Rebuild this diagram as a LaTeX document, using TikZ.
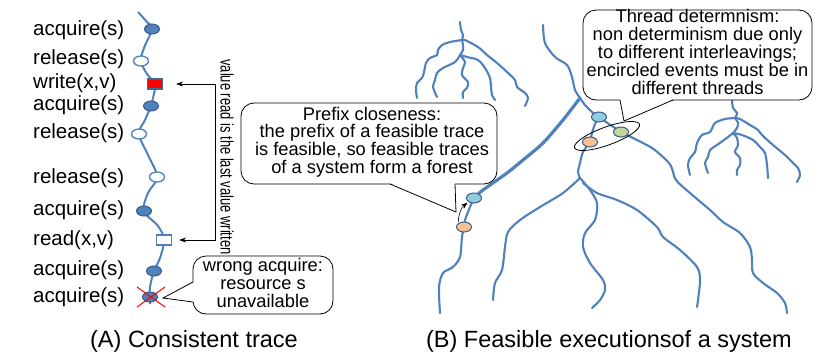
\documentclass[tikz,border=0pt]{standalone}
\usepackage{fontspec}
\usepackage{graphicx}
\setmainfont{Liberation Sans}
\usetikzlibrary{arrows.meta,backgrounds,shapes.geometric}

\definecolor{traceblue}{RGB}{79,129,189}
\definecolor{nodeborder}{RGB}{56,93,138}
\definecolor{evlightblue}{RGB}{146,205,220}
\definecolor{evorange}{RGB}{250,192,144}
\definecolor{evgreen}{RGB}{195,214,155}

\tikzset{
  evbase/.style={ellipse, inner sep=0pt, minimum width=15pt, minimum height=10pt},
  evfilled/.style={evbase, draw=nodeborder, fill=traceblue, line width=1pt},
  evopen/.style={evbase, draw=traceblue, fill=white, line width=1.3pt},
  evsquare/.style={rectangle, inner sep=0pt, minimum width=15pt, minimum height=10pt, line width=1.2pt},
  tnode/.style={evbase, draw=nodeborder, line width=1pt},
  trace/.style={draw=traceblue, line width=2pt},
  branch/.style={draw=traceblue, line width=2.1pt, line cap=round},
  evlabel/.style={anchor=base west, inner sep=0pt, font=\fontsize{20.5}{24}\selectfont},
  calltext/.style={align=center, inner sep=0pt, font=\fontsize{18.3}{17.8}\selectfont},
  callbox/.style={draw=black, fill=white, line width=0.8pt, rounded corners=13pt},
  tailline/.style={draw=black, line width=0.8pt},
  arr/.style={draw=black, line width=0.6pt, -{Stealth[length=7pt,width=5pt]}},
  caption/.style={anchor=base, inner sep=0pt, font=\fontsize{23.5}{28}\selectfont},
}

\begin{document}
\begin{tikzpicture}[x=1pt, y=-1pt]
\useasboundingbox (0,0) rectangle (840,354);
\begin{scope}[on background layer]
  \fill[white] (0,0) rectangle (840,354);
\end{scope}

% ---------------- (A) consistent trace ----------------
\node[evfilled] (a1) at (152,29) {};
\node[evopen]   (r1) at (141,61) {};
\node[evsquare, draw=traceblue!80!black, fill=red] (wr) at (155,84) {};
\node[evfilled] (a2) at (151,106) {};
\node[evopen]   (r2) at (139,134) {};
\node[evopen]   (r3) at (157,177) {};
\node[evfilled] (a3) at (144,211) {};
\node[evsquare, draw=traceblue, fill=white] (rd) at (164,240) {};
\node[evfilled] (a4) at (154,271) {};
\node[evfilled] (a5) at (150,297) {};

\begin{scope}[on background layer]
  \draw[trace] plot[smooth, tension=0.6] coordinates {
    (138,12) (147,22) (a1) (144,48) (r1) (147,74) (wr) (153,98) (a2)
    (145,120) (r2) (148,155) (r3) (148,193) (a3) (158,226) (rd)
    (160,258) (a4) (150,287) (a5) (150,304)};
\end{scope}

\node[evlabel] (l1)  at (33,35)  {acquire(s)};
\node[evlabel] (l2)  at (33,64)  {release(s)};
\node[evlabel] (l3)  at (33,88)  {write(x,v)};
\node[evlabel] (l4)  at (33,110) {acquire(s)};
\node[evlabel] (l5)  at (33,138) {release(s)};
\node[evlabel] (l6)  at (33,183) {release(s)};
\node[evlabel] (l7)  at (33,215) {acquire(s)};
\node[evlabel] (l8)  at (33,245) {read(x,v)};
\node[evlabel] (l9)  at (33,275) {acquire(s)};
\node[evlabel] (l10) at (33,302) {acquire(s)};

% read-from link between the read and the write it observes
\coordinate (vx) at (215,0);
\draw[arr, {Stealth[length=7pt,width=5pt]}-{Stealth[length=7pt,width=5pt]},
      shorten <=13pt, shorten >=7pt]
  (wr.east) -- (wr.east -| vx) -- (rd.east -| vx) -- (rd.east);
\node[rotate=-90, inner sep=0pt, font=\fontsize{18}{20}\selectfont] (vt) at (227,157)
  {\scalebox{0.72}[1]{value read is the last value written}};

% callout for the blocked acquire
\node[callbox, minimum width=140pt, minimum height=58pt] (wabox) at (263,285) {};
\coordinate (watip) at (163,298);
\fill[white] (194,282) -- (watip) -- (194,302) -- cycle;
\draw[tailline] (193,282) -- (watip) -- (193,302);
\node[calltext] (watext) at (263,283) {wrong acquire:\\resource s\\unavailable};

% cross over the blocked acquire
\draw[red, line width=1pt] (137,287) -- (165,307);
\draw[red, line width=1pt] (137,307) -- (165,287);

\node[caption] (capA) at (194,347) {(A) Consistent trace};

% ---------------- (B) feasible executions ----------------
% left small tree
\draw[branch] plot[smooth] coordinates {(460,22) (461,30) (463,35) (462,40)};
\draw[branch] plot[smooth] coordinates {(462,40) (450,42) (442,45) (438,50) (437,55) (430,58) (426,63) (424,72) (422,78) (417,83) (416,90) (417,98)};
\draw[branch] plot[smooth] coordinates {(462,40) (463,45) (463,50) (460,55)};
\draw[branch] plot[smooth] coordinates {(460,55) (455,62) (443,68) (437,73) (435,80) (433,87) (437,97)};
\draw[branch] plot[smooth] coordinates {(460,55) (465,62) (463,68) (462,75) (468,82) (467,88) (463,92) (463,98)};
\draw[branch] plot[smooth] coordinates {(460,55) (467,57) (478,60) (485,68) (490,78) (491,87) (492,95) (495,100)};
\draw[branch] plot[smooth] coordinates {(462,40) (465,40) (478,47) (487,55) (497,63) (507,72) (515,80) (517,87) (525,93) (528,98) (525,106)};

% right small tree
\draw[branch] plot[smooth] coordinates {(732,100) (733,108) (737,113) (735,118)};
\draw[branch] plot[smooth] coordinates {(735,118) (725,119) (715,123) (710,132) (702,135) (697,143) (695,152) (690,158) (688,165) (690,175)};
\draw[branch] plot[smooth] coordinates {(735,118) (738,123) (737,128) (733,133)};
\draw[branch] plot[smooth] coordinates {(733,133) (728,137) (717,145) (710,150) (708,157) (705,163) (708,173)};
\draw[branch] plot[smooth] coordinates {(733,133) (737,138) (738,145) (735,152) (740,158) (740,165) (737,170) (737,175)};
\draw[branch] plot[smooth] coordinates {(733,133) (742,135) (753,140) (760,147) (765,153) (767,165) (768,178)};
\draw[branch] plot[smooth] coordinates {(735,118) (740,119) (750,125) (758,130) (762,135) (773,145) (785,155) (793,163) (798,168) (800,175) (797,182)};

% main tree
\node[tnode, fill=evlightblue] (lb1) at (474,198) {};
\node[tnode, fill=evorange]    (or1) at (464,227) {};
\node[tnode, fill=evlightblue] (lb2) at (599,117) {};
\node[tnode, fill=evorange]    (or2) at (590,142) {};
\node[tnode, fill=evgreen]     (gr)  at (621,132) {};

\begin{scope}[on background layer]
  \coordinate (J) at (580,98);
  \coordinate (J3) at (580,178);
  \draw[branch] plot[smooth] coordinates {(543,25) (545,43) (555,57) (567,65) (572,77) (575,90) (J)};
  \draw[branch, line width=3.2pt] plot[smooth] coordinates {(J) (563,120) (543,143) (523,160) (507,173) (483,190) (lb1)};
  \draw[branch] plot[smooth] coordinates {(lb1) (470,207) (465,220) (or1)};
  \draw[branch] plot[smooth] coordinates {(or1) (462,237) (460,257) (453,267) (443,273) (439,287) (440,313)};
  \draw[branch] plot[smooth] coordinates {(J) (585,105) (592,112) (lb2)};
  \draw[branch] plot[smooth] coordinates {(lb2) (595,124) (592,133) (or2)};
  \draw[branch] plot[smooth] coordinates {(lb2) (606,122) (615,128) (gr)};
  \draw[branch] plot[smooth] coordinates {(gr) (637,140) (652,148) (663,157) (671,166) (676,180) (690,193) (710,210) (723,222) (740,233) (750,247) (752,260) (753,273) (763,283) (777,293) (785,303) (787,313)};
  \draw[branch] plot[smooth] coordinates {(or2) (583,152) (580,163) (578,172) (J3)};
  \draw[branch] plot[smooth] coordinates {(J3) (563,193) (540,207) (520,220) (508,232) (505,247) (502,270) (495,283) (493,300)};
  \draw[branch] plot[smooth] coordinates {(J3) (590,190) (597,203) (595,220) (585,233) (583,247) (590,263) (603,280) (605,290) (600,300) (592,308)};
  \draw[branch] plot[smooth] coordinates {(583,183) (597,193) (617,200) (637,210) (657,227) (663,237) (680,250) (697,267) (700,280) (698,300) (697,307)};
\end{scope}

% prefix step from the orange event to its extension
\draw[arr, shorten <=1pt, shorten >=1pt] (or1.north west) to[bend left=25] (lb1.south west);

% encircled events of different threads
\node[ellipse, draw=black, line width=0.8pt, minimum width=69pt, minimum height=18pt,
      inner sep=0pt, rotate=20] (circ) at (607,136) {};

% callout: prefix closeness
\node[callbox, minimum width=256pt, minimum height=81pt] (pcbox) at (369,143.5) {};
\coordinate (pctip) at (456,212);
\fill[white] (390,183) -- (pctip) -- (455,183) -- cycle;
\draw[tailline] (390,184) -- (pctip) -- (455,184);
\node[calltext] (pctext) at (372,142)
  {Prefix closeness:\\the prefix of a feasible trace\\is feasible, so feasible traces\\of a system form a forest};

% callout: thread determinism
\node[callbox, minimum width=229pt, minimum height=90pt] (tdbox) at (697.5,55) {};
\coordinate (tdtip) at (624,121);
\fill[white] (620,99) -- (tdtip) -- (673,99) -- cycle;
\draw[tailline] (620,100) -- (tdtip) -- (673,100);
\node[calltext] (tdtext) at (697.5,52)
  {Thread determnism:\\non determinism due only\\to different interleavings;\\encircled events must be in\\different threads};

\node[caption] (capB) at (609,347) {(B) Feasible executionsof a system};
\end{tikzpicture}
\end{document}
